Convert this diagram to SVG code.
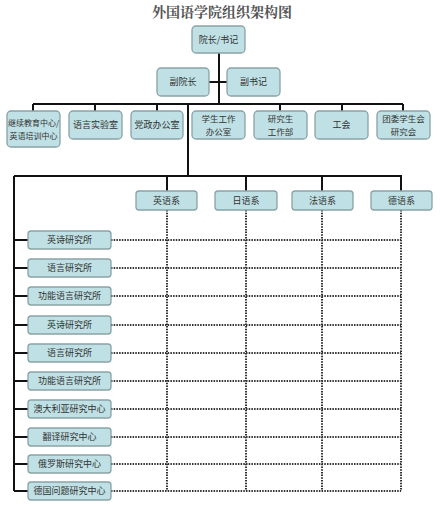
<svg xmlns="http://www.w3.org/2000/svg" width="440" height="515" viewBox="0 0 440 515">
<style>
.b{fill:#bfe0e4;stroke:#8aa3a6;stroke-width:1.3}
.t{font-family:"Noto Sans CJK SC","Noto Sans CJK JP",sans-serif;font-size:9px;fill:#333;text-anchor:middle}
.t2{font-size:8.5px}
.s{stroke:#111;stroke-width:2;fill:none}
.d{stroke:#333;stroke-width:2;fill:none;stroke-dasharray:1.5 1.2}
.ttl{font-family:"Noto Serif CJK SC","Noto Sans CJK SC",serif;font-size:14px;font-weight:bold;fill:#555;text-anchor:middle}
</style>
<rect width="440" height="515" fill="#fff"/>
<text class="ttl" x="222" y="17">外国语学院组织架构图</text>
<g id="connectors">
<path class="s" d="M219 53V104M209 82H227M33 104H403M33 104V111M95 104V111M157 104V111M280 104V111M342 104V111M403 104V111M188 104V176M14 176H402M167 176V191M246 176V191M322 176V191M401 176V191M14 176V491"/>
<path class="s" d="M14 240H28M14 268H28M14 296H28M14 325H28M14 353H28M14 381H28M14 409H28M14 437H28M14 464H28M14 491H28"/>
<path class="d" d="M167 210V491M246 210V491M322 210V491M401 210V491"/>
<path class="d" d="M111 240H401M111 268H401M111 296H401M111 325H401M111 353H401M111 381H401M111 409H401M111 437H401M111 464H401M111 491H401"/>
</g>
<g id="n-dean"><rect class="b" x="192" y="26" width="53" height="27" rx="4"/><text class="t" x="218.5" y="43">院长/书记</text></g>
<g id="n-vdean"><rect class="b" x="157" y="68" width="52" height="28" rx="4"/><text class="t" x="183" y="85">副院长</text></g>
<g id="n-vsec"><rect class="b" x="227" y="68" width="53" height="28" rx="4"/><text class="t" x="253.5" y="85">副书记</text></g>
<g id="n-cont"><rect class="b" x="7" y="111" width="53" height="36" rx="4"/><text class="t" x="33.5" y="126" style="font-size:8px">继续教育中心/</text><text class="t" x="33.5" y="139" style="font-size:8px">英语培训中心</text></g>
<g id="n-lab"><rect class="b" x="69" y="111" width="53" height="28" rx="4"/><text class="t" x="95.5" y="128">语言实验室</text></g>
<g id="n-office"><rect class="b" x="131" y="111" width="52" height="28" rx="4"/><text class="t" x="157" y="128">党政办公室</text></g>
<g id="n-stu"><rect class="b" x="192" y="111" width="53" height="28" rx="4"/><text class="t t2" x="218.5" y="122">学生工作</text><text class="t t2" x="218.5" y="134.5">办公室</text></g>
<g id="n-grad"><rect class="b" x="254" y="111" width="53" height="28" rx="4"/><text class="t t2" x="280.5" y="122">研究生</text><text class="t t2" x="280.5" y="134.5">工作部</text></g>
<g id="n-union"><rect class="b" x="315" y="111" width="53" height="28" rx="4"/><text class="t" x="341.5" y="128">工会</text></g>
<g id="n-youth"><rect class="b" x="377" y="111" width="53" height="28" rx="4"/><text class="t t2" x="403.5" y="122">团委学生会</text><text class="t t2" x="403.5" y="134.5">研究会</text></g>
<g id="n-en"><rect class="b" x="136" y="191" width="61" height="19" rx="3"/><text class="t" x="166.5" y="204">英语系</text></g>
<g id="n-jp"><rect class="b" x="215" y="191" width="62" height="19" rx="3"/><text class="t" x="246" y="204">日语系</text></g>
<g id="n-fr"><rect class="b" x="292" y="191" width="61" height="19" rx="3"/><text class="t" x="322.5" y="204">法语系</text></g>
<g id="n-de"><rect class="b" x="371" y="191" width="61" height="19" rx="3"/><text class="t" x="401.5" y="204">德语系</text></g>
<g id="r1"><rect class="b" x="28" y="231" width="83" height="18" rx="3"/><text class="t" x="69.5" y="243">英诗研究所</text></g>
<g id="r2"><rect class="b" x="28" y="259" width="83" height="18" rx="3"/><text class="t" x="69.5" y="271">语言研究所</text></g>
<g id="r3"><rect class="b" x="28" y="287" width="83" height="18" rx="3"/><text class="t" x="69.5" y="299">功能语言研究所</text></g>
<g id="r4"><rect class="b" x="28" y="316" width="83" height="18" rx="3"/><text class="t" x="69.5" y="328">英诗研究所</text></g>
<g id="r5"><rect class="b" x="28" y="344" width="83" height="18" rx="3"/><text class="t" x="69.5" y="356">语言研究所</text></g>
<g id="r6"><rect class="b" x="28" y="372" width="83" height="18" rx="3"/><text class="t" x="69.5" y="384">功能语言研究所</text></g>
<g id="r7"><rect class="b" x="28" y="400" width="83" height="18" rx="3"/><text class="t" x="69.5" y="412">澳大利亚研究中心</text></g>
<g id="r8"><rect class="b" x="28" y="428" width="83" height="18" rx="3"/><text class="t" x="69.5" y="440">翻译研究中心</text></g>
<g id="r9"><rect class="b" x="28" y="455" width="83" height="18" rx="3"/><text class="t" x="69.5" y="467">俄罗斯研究中心</text></g>
<g id="r10"><rect class="b" x="28" y="482" width="83" height="18" rx="3"/><text class="t" x="69.5" y="494">德国问题研究中心</text></g>
</svg>
